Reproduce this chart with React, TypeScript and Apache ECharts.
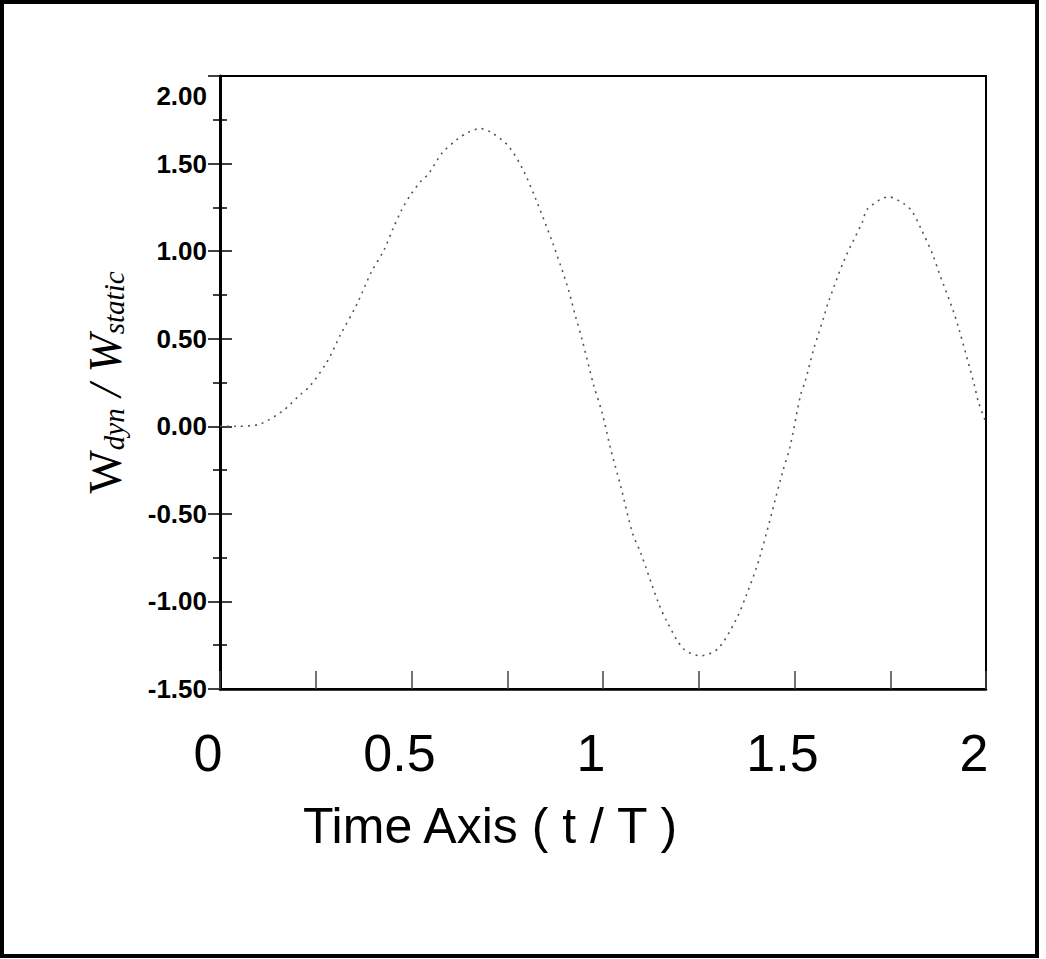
import React, { useEffect, useRef } from "react";
import * as echarts from "echarts";

const tValues = [
  0, 0.04, 0.1, 0.165, 0.209, 0.235, 0.28, 0.314, 0.358, 0.395, 0.429, 0.452, 0.473, 0.497,
  0.525, 0.544, 0.58, 0.62, 0.65, 0.68, 0.714, 0.753, 0.79, 0.824, 0.868, 0.907, 0.928, 0.946,
  0.975, 0.998, 1.02, 1.046, 1.077, 1.098, 1.145, 1.168, 1.21, 1.255, 1.3, 1.346, 1.375, 1.409,
  1.469, 1.488, 1.516, 1.527, 1.55, 1.563, 1.576, 1.587, 1.63, 1.678, 1.69, 1.746, 1.786, 1.806,
  1.83, 1.861, 1.877, 1.916, 1.93, 1.969, 1.98, 2.0,
];
const ratioValues = [
  0, 0.0, 0.01, 0.09, 0.18, 0.23, 0.37, 0.52, 0.7, 0.88, 1.01, 1.13, 1.23, 1.32,
  1.4, 1.44, 1.56, 1.64, 1.68, 1.7, 1.67, 1.6, 1.47, 1.3, 1.05, 0.8, 0.63, 0.49,
  0.24, 0.075, -0.13, -0.34, -0.61, -0.72, -1.01, -1.12, -1.27, -1.31, -1.27, -1.11, -0.96, -0.75,
  -0.26, -0.12, 0.18, 0.25, 0.44, 0.53, 0.62, 0.7, 0.95, 1.17, 1.24, 1.31, 1.27, 1.23,
  1.13, 0.98, 0.88, 0.65, 0.55, 0.24, 0.14, 0.02,
];
const xTickLabels = ["0", "0.5", "1", "1.5", "2"];
const xTitle = "Time Axis ( t / T )";

export default function App() {
  const ref = useRef<HTMLDivElement>(null);
  useEffect(() => {
    document.body.style.margin = "0";
    const chart = echarts.init(ref.current!, null, { renderer: "svg" });
    const data = tValues.map((t, i) => [t, ratioValues[i]]);
    const yRange = { min: -1.5, max: 2, interval: 0.5 };
    const serif = "Liberation Serif, Times New Roman, serif";
    chart.setOption({
      animation: false,
      backgroundColor: "#fff",
      grid: {
        left: 220,
        top: 76,
        width: 766,
        height: 613,
        show: true,
        borderColor: "#000",
        borderWidth: 2,
      },
      xAxis: {
        type: "value",
        min: 0,
        max: 2,
        interval: 0.25,
        splitLine: { show: false },
        axisLine: { show: true, onZero: false, lineStyle: { color: "#000", width: 2.5 } },
        axisTick: { show: true, inside: true, length: 18, lineStyle: { color: "#444", width: 1.5 } },
        axisLabel: {
          color: "#000",
          fontSize: 52,
          fontFamily: "Liberation Sans, Arial, sans-serif",
          margin: 38,
          padding: [0, 24, 0, 0],
          formatter: (v: number) => {
            const idx = Math.round(v * 2);
            return Math.abs(v * 2 - idx) < 1e-6 ? xTickLabels[idx] : "";
          },
        },
        name: xTitle,
        nameLocation: "middle",
        nameGap: 112,
        nameTextStyle: {
          color: "#000",
          fontSize: 50,
          fontFamily: "Liberation Sans, Arial, sans-serif",
          padding: [0, 226, 0, 0],
        },
      },
      yAxis: [
        {
          type: "value",
          ...yRange,
          splitLine: { show: false },
          axisLine: { show: true, onZero: false, lineStyle: { color: "#000", width: 3 } },
          axisTick: { show: true, length: 12, lineStyle: { color: "#000", width: 1.5 } },
          minorTick: { show: true, splitNumber: 2, length: 7, lineStyle: { color: "#000", width: 1.5 } },
          axisLabel: {
            color: "#000",
            fontSize: 26,
            fontWeight: "bold",
            fontFamily: "Liberation Sans, Arial, sans-serif",
            margin: 13,
            formatter: (v: number) => (v === 2 ? "{top|" + v.toFixed(2) + "}" : v.toFixed(2)),
            rich: {
              top: {
                fontSize: 26,
                fontWeight: "bold",
                fontFamily: "Liberation Sans, Arial, sans-serif",
                color: "#000",
                padding: [40, 0, 0, 0],
              },
            },
          },
          name: "{w|W}{sub|dyn}{sl| / }{wi|W}{sub|static}",
          nameLocation: "middle",
          nameRotate: 90,
          nameGap: 92,
          nameTextStyle: {
            color: "#000",
            fontFamily: serif,
            rich: {
              w: { fontSize: 46, fontFamily: serif, color: "#000", verticalAlign: "top", lineHeight: 46 },
              wi: { fontSize: 46, fontFamily: serif, fontStyle: "italic", color: "#000", verticalAlign: "top", lineHeight: 46 },
              sl: { fontSize: 46, fontFamily: serif, fontStyle: "italic", color: "#000", verticalAlign: "top", lineHeight: 46 },
              sub: {
                fontSize: 29,
                fontFamily: serif,
                fontStyle: "italic",
                color: "#000",
                verticalAlign: "bottom",
                lineHeight: 29,
                padding: [27, 0, 0, 0],
              },
            },
          },
        },
        {
          type: "value",
          ...yRange,
          position: "left",
          splitLine: { show: false },
          axisLine: { show: false, onZero: false },
          axisLabel: { show: false },
          axisTick: { show: true, inside: true, length: 12, lineStyle: { color: "#000", width: 1.5 } },
          minorTick: { show: true, splitNumber: 2, length: 7, lineStyle: { color: "#000", width: 1.5 } },
        },
      ],
      graphic: [
        {
          type: "rect",
          shape: { x: 2, y: 2, width: 1035, height: 954 },
          style: { fill: "none", stroke: "#000", lineWidth: 4 },
          silent: true,
        },
      ],
      series: [
        {
          type: "line",
          data,
          showSymbol: false,
          smooth: 0.3,
          lineStyle: { color: "#555", width: 1.6, type: [2, 5] },
        },
      ],
    });
    return () => chart.dispose();
  }, []);
  return (
    <div
      ref={ref}
      style={{ position: "absolute", left: 0, top: 0, width: 1046, height: 959, background: "#fff" }}
    />
  );
}
